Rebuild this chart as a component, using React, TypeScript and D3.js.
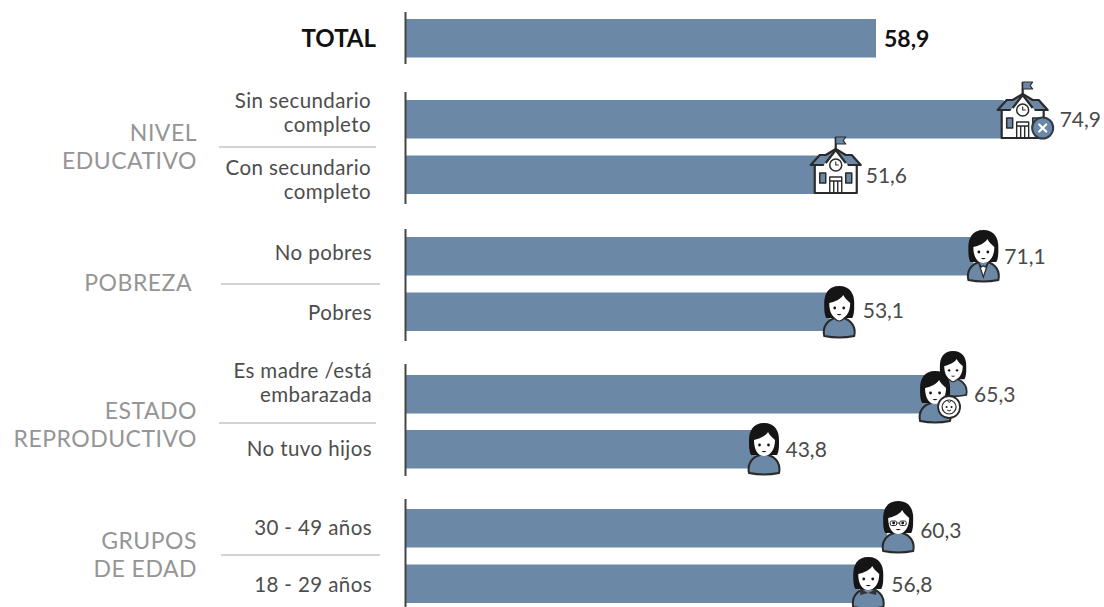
import React from "react";
import * as d3 from "d3";

const rowKeys = ["total", "sin", "con", "nopobres", "pobres", "madre", "nohijos", "g30", "g18"];
const values = [58.9, 74.9, 51.6, 71.1, 53.1, 65.3, 43.8, 60.3, 56.8];
const valueLabels = ["58,9", "74,9", "51,6", "71,1", "53,1", "65,3", "43,8", "60,3", "56,8"];
const rowLabels: string[][] = [
  ["TOTAL"],
  ["Sin secundario", "completo"],
  ["Con secundario", "completo"],
  ["No pobres"],
  ["Pobres"],
  ["Es madre /está", "embarazada"],
  ["No tuvo hijos"],
  ["30 - 49 años"],
  ["18 - 29 años"],
];
const groupLabels: string[][] = [["NIVEL", "EDUCATIVO"], ["POBREZA"], ["ESTADO", "REPRODUCTIVO"], ["GRUPOS", "DE EDAD"]];

// layout
const barTops = [19, 100, 155.5, 237, 292.5, 375, 430, 509, 564.5];
const barH = 38.5;
const rowLabelY: number[][] = [[47], [108, 132], [175, 199], [260], [320], [378, 402], [456], [535], [592]];
const rowLabelRight = [376, 371, 371, 372, 372, 372, 372, 372, 372];
const valueOffset = [8, 56, 48, 31, 33, 47, 30, 33, 32];
const valueY = [47, 127, 183, 264, 318, 402, 457, 538, 592];
const groupY: number[][] = [[141, 169], [291], [419, 447], [549, 577]];
const groupRight = [197, 192, 197, 197];
const axisSegments = [[12, 64], [92, 204], [229, 341], [364, 476], [499, 607]];
const separators = [[219, 376, 147], [221, 380, 284], [219, 376, 423], [221, 380, 555]];

const BLUE = "#6b88a7";
const INK = "#2a2a2a";
const x = d3.scaleLinear().domain([0, 58.9]).range([406, 876]);
const font = "Lato, sans-serif";

function School({ cx, cy, badge }: { cx: number; cy: number; badge?: boolean }) {
  return (
    <g transform={`translate(${cx},${cy})`} stroke={INK} strokeWidth={2.2} strokeLinejoin="round">
      <path d="M0,-15V-28" fill="none" />
      <path d="M0,-28H10L7.5,-24.5L10,-21H0Z" fill={BLUE} strokeWidth={1.2} />
      <path d="M-21,0V28H21V0Z" fill="#fff" />
      <path d="M-25,0L-16,-10H-10L0,-16L10,-10H16L25,0Z" fill={BLUE} />
      <path d="M-12,0L0,-14L12,0V6H-12Z" fill="#fff" stroke="none" />
      <path d="M-10,-2L0,-15L10,-2" fill="none" />
      <circle cx={0} cy={0} r={6} fill="#fff" strokeWidth={1.5} />
      <path d="M0,-3.5V0H3" fill="none" strokeWidth={1.1} />
      <rect x={-16} y={8} width={6} height={10} fill={BLUE} strokeWidth={1.5} />
      <rect x={10} y={8} width={6} height={10} fill={BLUE} strokeWidth={1.5} />
      <path d="M-6,28V12H6V28M-2,28V16M2,28V16M-6,16H6" fill="none" strokeWidth={1.4} />
      {badge && (
        <g transform="translate(20,18)">
          <circle r={10.5} fill={BLUE} stroke="#2f3b47" strokeWidth={2} />
          <path d="M-3.5,-3.5L3.5,3.5M3.5,-3.5L-3.5,3.5" stroke="#fff" strokeWidth={2.2} strokeLinecap="round" />
        </g>
      )}
    </g>
  );
}

type Kind = "suit" | "plain" | "glasses" | "tie" | "student";

function Woman({ cx, cy, s = 1, kind }: { cx: number; cy: number; s?: number; kind: Kind }) {
  return (
    <g transform={`translate(${cx},${cy}) scale(${s})`}>
      <path
        d="M-15,25C-17,16 -12,9 -4,7H4C12,9 17,16 15,25Q0,28 -15,25Z"
        fill={BLUE}
        stroke={INK}
        strokeWidth={2}
      />
      {kind === "suit" && <path d="M-5,7L0,22L5,7L2,12L0,11L-2,12Z" fill="#fff" stroke={INK} strokeWidth={1.2} />}
      {kind === "tie" && <path d="M-8,7L0,11L8,7L8,13L0,11L-8,13Z" fill="#333" />}
      {kind === "student" && <path d="M-5,7Q0,13 5,7" fill="#fff" stroke={INK} strokeWidth={1.2} />}
      <path
        d="M0,-25C-11,-25 -15,-17 -15,-8C-15,-1 -15,3 -13,7H13C15,3 15,-1 15,-8C15,-17 11,-25 0,-25Z"
        fill="#151515"
      />
      <path
        d="M-10,-8C-5,-9 2,-12 4,-16C6,-12 9,-10 11,-8C11,2 6,8 0,8C-6,8 -10,2 -10,-8Z"
        fill="#fff"
      />
      <circle cx={-4.5} cy={-3} r={1.4} fill="#151515" />
      <circle cx={4.5} cy={-3} r={1.4} fill="#151515" />
      <path d="M-2.5,3Q0,5.5 2.5,3Z" fill="#151515" />
      {kind === "glasses" && (
        <g fill="none" stroke="#333" strokeWidth={1}>
          <rect x={-8} y={-5} width={6.5} height={4.5} rx={1.5} />
          <rect x={1.5} y={-5} width={6.5} height={4.5} rx={1.5} />
          <path d="M-1.5,-3H1.5" />
        </g>
      )}
    </g>
  );
}

function Baby({ cx, cy }: { cx: number; cy: number }) {
  return (
    <g transform={`translate(${cx},${cy})`}>
      <circle r={11} fill="#fff" stroke={INK} strokeWidth={1.8} />
      <circle r={7} fill="#fff" stroke={INK} strokeWidth={1.2} />
      <path d="M-2,-7Q0,-3 2,-6" fill="none" stroke={INK} strokeWidth={1} />
      <circle cx={-2.5} cy={0} r={1} fill="#151515" />
      <circle cx={2.5} cy={0} r={1} fill="#151515" />
      <path d="M-2,3Q0,5 2,3" fill="none" stroke={INK} strokeWidth={1} />
    </g>
  );
}

function Icon({ k, end }: { k: string; end: number }) {
  switch (k) {
    case "sin":
      return <School cx={end + 19} cy={110} badge />;
    case "con":
      return <School cx={end + 18} cy={165} />;
    case "nopobres":
      return <Woman cx={end + 10} cy={255} kind="suit" />;
    case "pobres":
      return <Woman cx={end + 9.5} cy={311} kind="student" />;
    case "madre":
      return (
        <g>
          <Woman cx={end + 26} cy={373} s={0.88} kind="student" />
          <Woman cx={end + 8} cy={396} kind="plain" />
          <Baby cx={end + 22} cy={407} />
        </g>
      );
    case "nohijos":
      return <Woman cx={end + 8.5} cy={448} kind="plain" />;
    case "g30":
      return <Woman cx={end + 11} cy={526} kind="glasses" />;
    case "g18":
      return <Woman cx={end + 9} cy={582} kind="tie" />;
    default:
      return null;
  }
}

export default function App() {
  return (
    <svg
      width={1104}
      height={607}
      viewBox="0 0 1104 607"
      style={{ position: "absolute", left: 0, top: 0, background: "#fff", fontFamily: font }}
    >
      {rowKeys.map((k, i) => (
        <rect key={k} x={x(0)} y={barTops[i]} width={x(values[i]) - x(0)} height={barH} fill={BLUE} />
      ))}
      {axisSegments.map(([a, b], i) => (
        <line key={i} x1={405.5} x2={405.5} y1={a} y2={b} stroke="#444" strokeWidth={2} />
      ))}
      {separators.map(([a, b, y], i) => (
        <line key={i} x1={a} x2={b} y1={y} y2={y} stroke="#a8a8a8" strokeWidth={1.2} />
      ))}
      {rowKeys.map((k, i) => (
        <Icon key={k} k={k} end={x(values[i])} />
      ))}
      {rowKeys.map((k, i) => (
        <text
          key={k}
          x={x(values[i]) + valueOffset[i]}
          y={valueY[i]}
          fontSize={i === 0 ? 23 : 21}
          fontWeight={i === 0 ? 700 : 400}
          fill={i === 0 ? "#111" : "#4a4a4a"}
        >
          {valueLabels[i]}
        </text>
      ))}
      {rowLabels.map((lines, i) =>
        lines.map((t, j) => (
          <text
            key={t + i}
            x={rowLabelRight[i]}
            y={rowLabelY[i][j]}
            textAnchor="end"
            fontSize={i === 0 ? 24 : 20.5}
            letterSpacing={i === 0 ? 0 : 0.4}
            fontWeight={i === 0 ? 700 : 400}
            fill={i === 0 ? "#111" : "#4d4d4d"}
          >
            {t}
          </text>
        ))
      )}
      {groupLabels.map((lines, i) =>
        lines.map((t, j) => (
          <text
            key={t}
            x={groupRight[i]}
            y={groupY[i][j]}
            textAnchor="end"
            fontSize={23}
            letterSpacing={0.5}
            fontWeight={400}
            fill="#959595"
          >
            {t}
          </text>
        ))
      )}
    </svg>
  );
}
